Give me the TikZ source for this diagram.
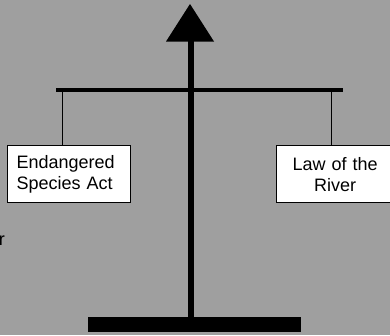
\documentclass[tikz,border=0pt]{standalone}
\usepackage{fontspec}
\setmainfont{Liberation Sans}
\begin{document}
\begin{tikzpicture}[x=1pt,y=-1pt,
  lawbox/.style={draw=black,line width=1.3pt,fill=white,inner sep=0pt,
    minimum height=57pt,font=\fontsize{18}{21}\selectfont},
  hanger/.style={draw=black,line width=0.9pt},
  beam/.style={fill=black}]
\useasboundingbox (0,0) rectangle (390,335);
\fill[gray!75!white] (0,0) rectangle (390,335);
% stem and arrow head
\fill[black] (188,40) rectangle (194,318);
\fill[black] (166,41.5) -- (214,41.5) -- (190,4) -- cycle;
% cross bar
\fill[beam] (56,88) rectangle (343,92);
% base
\fill[beam] (88,317) rectangle (301,332);
% boxes
\node[lawbox,minimum width=123pt,text width=115pt,align=left,anchor=north west]
  (esa) at (7,145) {\hspace*{5pt}Endangered\\\hspace*{5pt}Species Act};
\node[lawbox,minimum width=117pt,text width=117pt,align=center,anchor=north west]
  (lor) at (276,145) {Law of the\\River};
% hangers
\coordinate (lh) at (62,92);
\coordinate (rh) at (331,92);
\draw[hanger] (lh) -- (lh |- esa.north);
\draw[hanger] (rh) -- (rh |- lor.north);
% cut-off text at left edge
\node[font=\fontsize{18}{21}\selectfont,inner sep=0pt,anchor=base east] (frag) at (5,245) {r};
\end{tikzpicture}
\end{document}
